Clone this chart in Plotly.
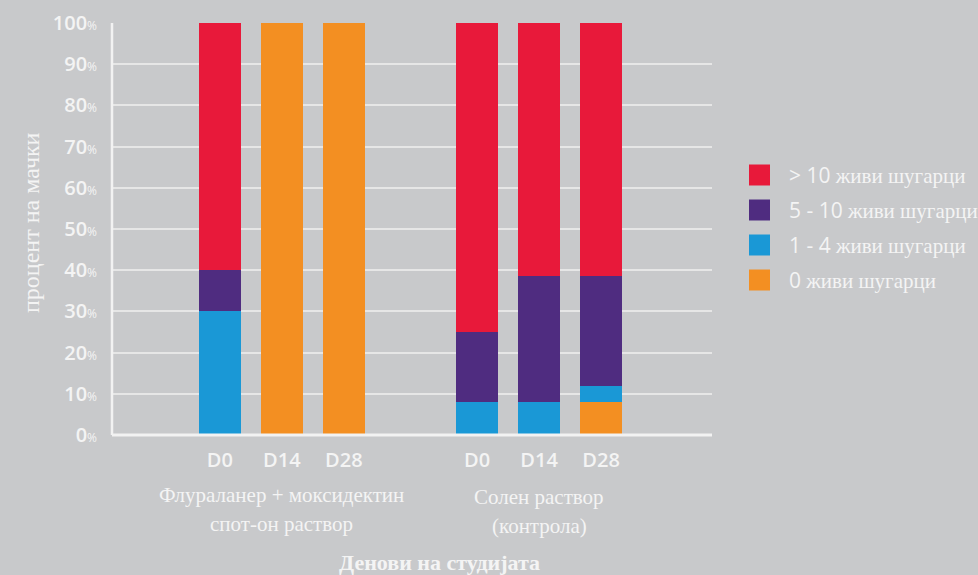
import plotly.graph_objects as go

# ---- data ----
groups = ["Флураланер + моксидектин<br>спот-он раствор", "Солен раствор<br>(контрола)"]
days = ["D0", "D14", "D28"]
series_names = ["0 живи шугарци", "1 - 4 живи шугарци", "5 - 10 живи шугарци", "> 10 живи шугарци"]
legend_nums = ["0", "1 - 4", "5 - 10", "> 10"]
legend_words = ["живи шугарци", "живи шугарци", "живи шугарци", "живи шугарци"]
# values per series: [g1 D0, g1 D14, g1 D28, g2 D0, g2 D14, g2 D28]
vals_0 = [0, 100, 100, 0, 0, 8]
vals_1_4 = [30, 0, 0, 8, 8, 4]
vals_5_10 = [10, 0, 0, 17, 30.5, 26.5]
vals_gt10 = [60, 0, 0, 75, 61.5, 61.5]
y_ticks = [0, 10, 20, 30, 40, 50, 60, 70, 80, 90, 100]

colors = ["#f38f22", "#1a98d6", "#4f2c80", "#e8193a"]
all_vals = [vals_0, vals_1_4, vals_5_10, vals_gt10]

BG = "#c8c9cb"
WHITE = "#f4f4f4"
SERIF = "Liberation Serif"
SANS = "Open Sans"

group_offset = [0.0, 4.15]
xpos = [group_offset[g] + i for g in range(len(groups)) for i in range(len(days))]
xlabels = [d for g in range(len(groups)) for d in days]

fig = go.Figure()
for name, v, c in zip(series_names, all_vals, colors):
    fig.add_trace(go.Bar(x=xpos, y=v, name=name, marker=dict(color=c, line=dict(width=0)),
                         width=0.68, showlegend=False))

# plot area pixel geometry
L, R, T, B = 112, 712, 23, 435
W, H = 978, 575
def px(xp):
    return (xp - L) / (R - L)
def py(yp):
    return (B - yp) / (B - T)

fig.update_layout(
    width=W, height=H,
    margin=dict(l=L, r=W - R, t=T, b=H - B, autoexpand=False),
    paper_bgcolor=BG, plot_bgcolor=BG,
    barmode="stack",
    bargap=0,
    xaxis=dict(range=[-1.74, 7.94], tickvals=xpos, ticktext=xlabels,
               showgrid=False, zeroline=False, showline=False,
               tickfont=dict(family=SANS, size=20, color=WHITE, weight=600),
               ticks="", ticklabelstandoff=11, fixedrange=True),
    yaxis=dict(range=[0, 100], tickvals=y_ticks,
               ticktext=[f"{t}<span style='font-size:12px;font-weight:400'>%</span>" for t in y_ticks],
               showgrid=True, gridcolor="#e6e6e6", gridwidth=1.5, zeroline=False,
               showline=False, ticks="", ticklabelstandoff=14,
               tickfont=dict(family=SANS, size=20, color=WHITE, weight=600), fixedrange=True),
)

shapes = []
# axes lines
shapes.append(dict(type="line", xref="paper", yref="paper", x0=0, x1=1, y0=0, y1=0,
                   line=dict(color="#f2f2f2", width=3)))
shapes.append(dict(type="line", xref="paper", yref="paper", x0=0, x1=0, y0=0, y1=1,
                   line=dict(color="#f2f2f2", width=2.5)))

annotations = []
# group labels
centers = [group_offset[g] + 1 for g in range(len(groups))]
for g, lab in enumerate(groups):
    lines = lab.split("<br>")
    for k, ln in enumerate(lines):
        annotations.append(dict(x=centers[g], xref="x", y=py(495 + 29 * k + (2 if g else 0)), yref="paper",
                                text=ln, showarrow=False, xanchor="center", yanchor="middle",
                                font=dict(family=SERIF, size=21, color=WHITE)))
# x axis title
annotations.append(dict(x=px(439), xref="paper", y=py(562), yref="paper", text="<b>Денови на студијата</b>",
                        showarrow=False, xanchor="center", yanchor="middle",
                        font=dict(family=SERIF, size=22, color=WHITE)))
# y axis title
annotations.append(dict(x=px(31), xref="paper", y=py(223), yref="paper", text="процент на мачки",
                        textangle=-90, showarrow=False, xanchor="center", yanchor="middle",
                        font=dict(family=SERIF, size=24, color=WHITE)))

# custom legend (top to bottom: > 10, 5-10, 1-4, 0)
order = [3, 2, 1, 0]
for row, idx in enumerate(order):
    yc = 175 + 35 * row
    shapes.append(dict(type="rect", xref="paper", yref="paper",
                       x0=px(749), x1=px(770), y0=py(yc - 10.5), y1=py(yc + 10.5),
                       fillcolor=colors[idx], line=dict(width=0)))
    annotations.append(dict(x=px(787), xref="paper", y=py(yc), yref="paper",
                            text=f"<span style='font-family:{SANS}'>{legend_nums[idx]}</span> {legend_words[idx]}",
                            showarrow=False, xanchor="left", yanchor="middle",
                            font=dict(family=SERIF, size=21, color=WHITE)))

fig.update_layout(shapes=shapes, annotations=annotations)
fig.write_html("out.html", config={"displayModeBar": False},
               post_script="document.body.style.margin='0';document.body.style.overflow='hidden';")
